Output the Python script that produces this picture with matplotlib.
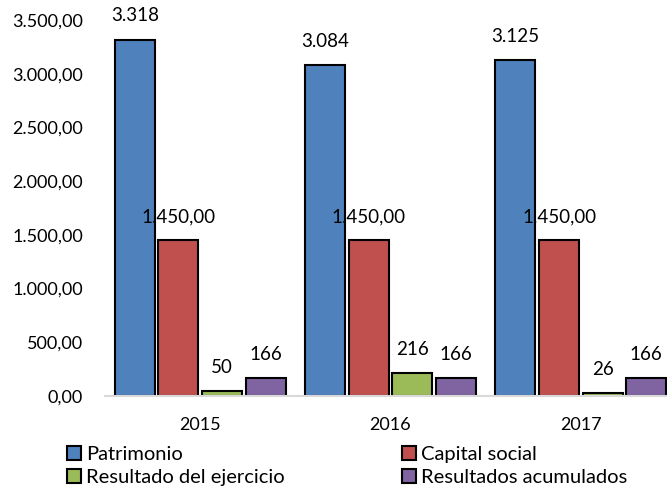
import numpy as np
import matplotlib.pyplot as plt
from matplotlib.patches import Patch

years = ["2015", "2016", "2017"]
series = ["Patrimonio", "Capital social", "Resultado del ejercicio", "Resultados acumulados"]
patrimonio = [3318, 3084, 3125]
capital_social = [1450, 1450, 1450]
resultado_ejercicio = [50, 216, 26]
resultados_acumulados = [166, 166, 166]
decimals = [0, 2, 0, 0]

colors = ["#4F81BD", "#C0504D", "#9BBB59", "#8064A2"]
FS = 13


def es_num(v, d):
    s = f"{v:,.{d}f}"
    return s.replace(",", "X").replace(".", ",").replace("X", ".")


plt.rcParams["font.family"] = ["Lato", "DejaVu Sans"]

fig = plt.figure(figsize=(6.67, 4.88), dpi=100)
ax = fig.add_axes([105 / 667, 92 / 488, 571 / 667, 376 / 488])

x = np.arange(len(years))
width = 0.21
step = 0.229
values = [patrimonio, capital_social, resultado_ejercicio, resultados_acumulados]
for i, (vals, col) in enumerate(zip(values, colors)):
    pos = x + (i - 1.5) * step
    ax.bar(pos, vals, width, color=col, edgecolor="black", linewidth=1.5, label=series[i])
    for px, v in zip(pos, vals):
        ax.annotate(es_num(v, decimals[i]), (px, v), xytext=(0, 17), textcoords="offset points",
                    ha="center", va="center", fontsize=13.5)

ax.set_xlim(-0.5, 2.5)
ax.set_ylim(0, 3500)
ax.set_yticks(np.arange(0, 3501, 500))
ax.set_yticklabels([es_num(t, 2) for t in np.arange(0, 3501, 500)])
ax.set_xticks(x)
ax.set_xticklabels(years)
ax.tick_params(axis="both", length=0, labelsize=FS)
ax.tick_params(axis="y", pad=16)
ax.tick_params(axis="x", pad=15)
for s in ["top", "right", "left"]:
    ax.spines[s].set_visible(False)
ax.spines["bottom"].set_color("#D9D9D9")
ax.spines["bottom"].set_linewidth(1.5)

handles = [Patch(facecolor=c, edgecolor="black", linewidth=1.5) for c in colors]
kw = dict(frameon=False, fontsize=14.5, handlelength=0.7, handleheight=0.7,
          handletextpad=0.25, labelspacing=0.27, borderpad=0, borderaxespad=0)
leg1 = fig.legend([handles[0], handles[2]], [series[0], series[2]],
                  loc="upper left", bbox_to_anchor=(67 / 667, 1 - 446 / 488), **kw)
leg2 = fig.legend([handles[1], handles[3]], [series[1], series[3]],
                  loc="upper left", bbox_to_anchor=(402 / 667, 1 - 446 / 488), **kw)

fig.savefig("out.png", dpi=100)
